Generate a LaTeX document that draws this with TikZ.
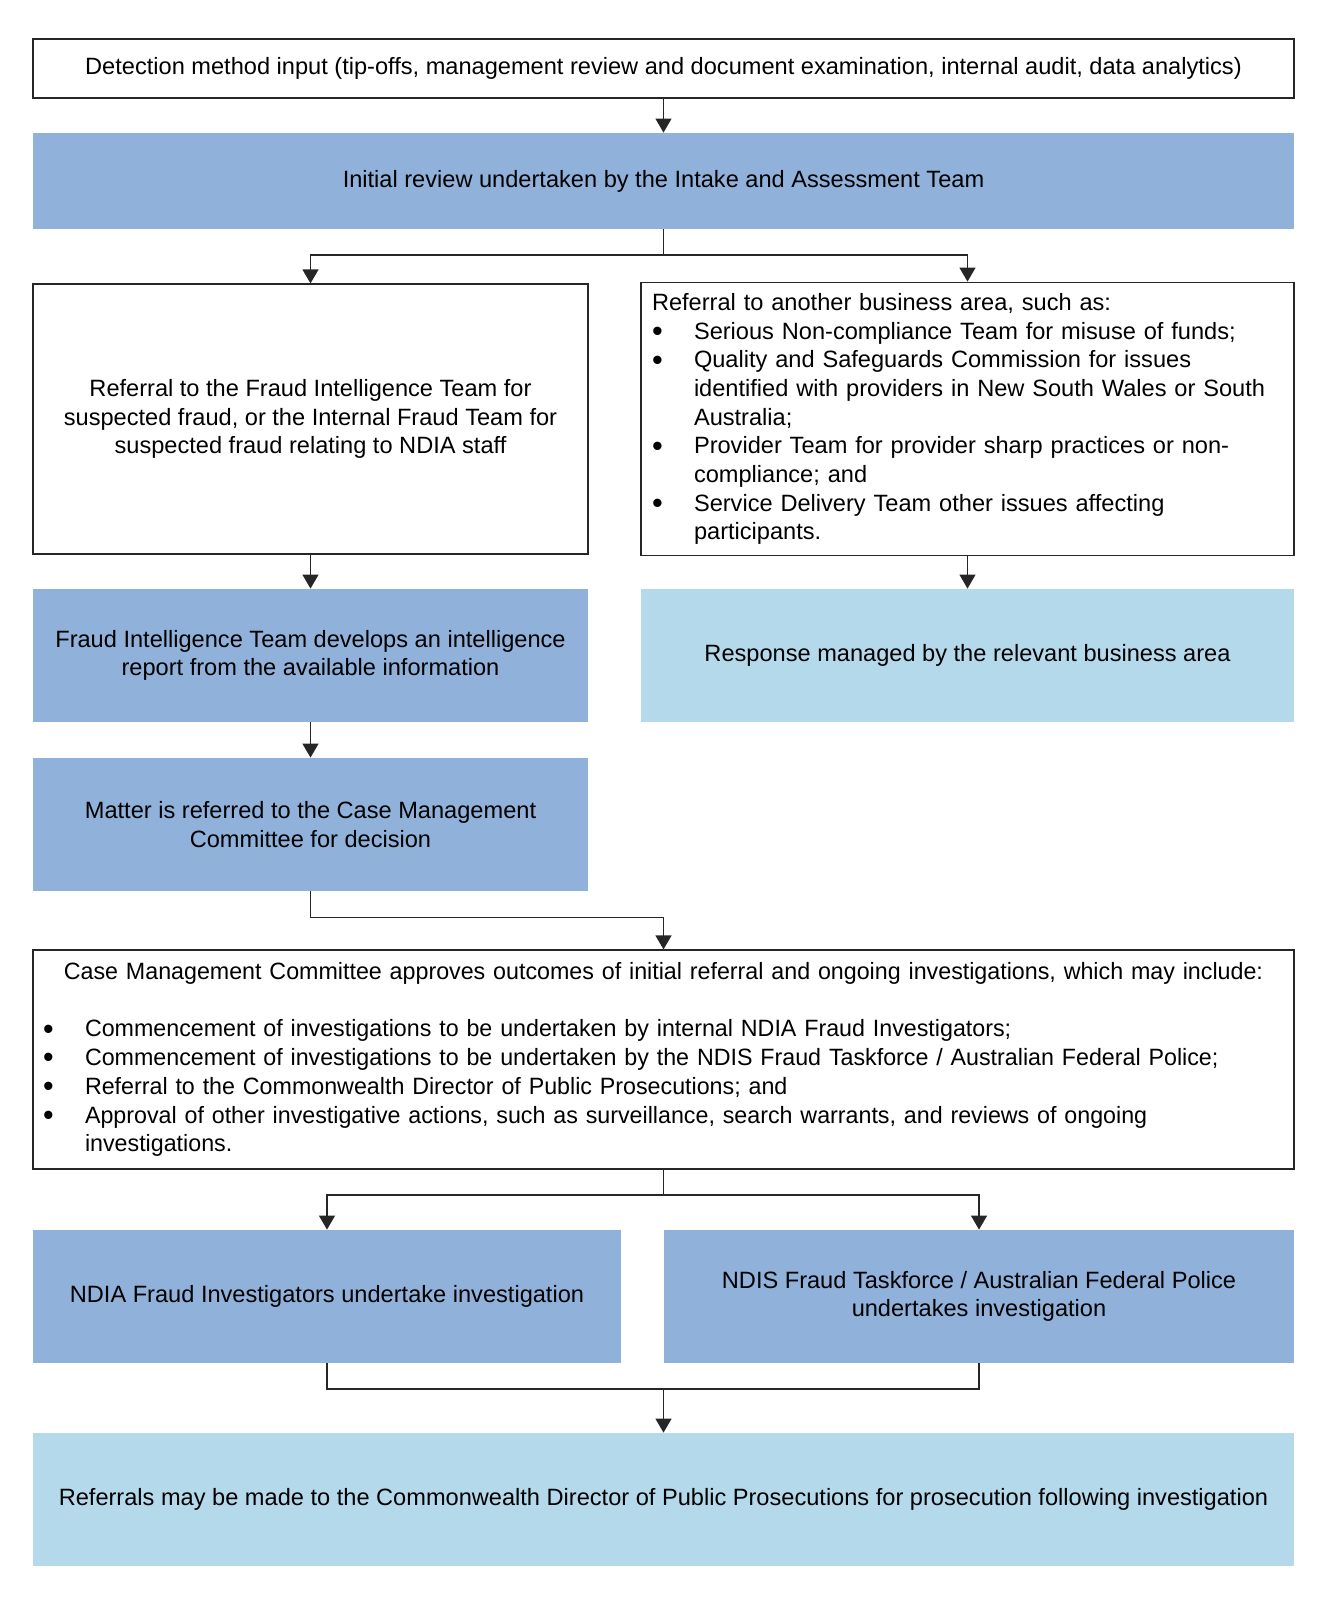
\documentclass[tikz,border=0pt]{standalone}
\usepackage{fontspec}
\setmainfont{Liberation Sans}
\newfontfamily\narrowfont[FakeStretch=0.985]{Liberation Sans}
\usetikzlibrary{arrows.meta}

\definecolor{stepblue}{RGB}{143,177,218}
\definecolor{paleblue}{RGB}{180,217,235}
\newcommand{\bul}{\makebox[21pt][l]{\raisebox{-0.1em}{\scalebox{1.3}{\textbullet}}}}
\newcommand{\ind}{\hspace*{21pt}}

\begin{document}
\begin{tikzpicture}[x=0.5pt, y=-0.5pt,
    every node/.style={font=\fontsize{11.8pt}{14.35pt}\selectfont, inner sep=5pt},
    outline/.style={draw=black!85, line width=0.6pt, fill=white},
    darkbox/.style={fill=stepblue},
    lightbox/.style={fill=paleblue},
    wide/.style={minimum width=630.5pt},
    leftcol/.style={minimum width=277.5pt},
    rightcol/.style={minimum width=326.5pt},
    link/.style={draw=black!85, line width=0.6pt},
    flow/.style={link, -{Triangle[length=7pt,width=8pt]}}]

    \useasboundingbox (0,0) rectangle (1327,1605);

    % draw top boxes
    \node[outline, wide, minimum height=29.5pt, align=center] (detect) at (663.5,68.5)
      {Detection method input (tip-offs, management review and document examination, internal audit, data analytics)};
    \node[darkbox, wide, minimum height=48pt, align=center] (intake) at (663.5,181)
      {Initial review undertaken by the Intake and Assessment Team};

    % draw referral boxes
    \node[outline, leftcol, minimum height=135pt, align=center] (fraudref) at (310.5,419)
      {Referral to the Fraud Intelligence Team for\\suspected fraud, or the Internal Fraud Team for\\suspected fraud relating to NDIA staff};
    \node[outline, rightcol, minimum height=135pt, inner sep=5.5pt, text width=315.5pt, align=left] (otherref) at (967.5,419)
      {Referral to another business area, such as:\\
       \bul Serious Non-compliance Team for misuse of funds;\\
       \bul Quality and Safeguards Commission for issues\\
       \ind identified with providers in New South Wales or South\\
       \ind Australia;\\
       \bul Provider Team for provider sharp practices or non-\\
       \ind compliance; and\\
       \bul Service Delivery Team other issues affecting\\
       \ind participants.};

    % draw middle boxes
    \node[darkbox, leftcol, minimum height=66.5pt, align=center] (fitrep) at (310.5,655.5)
      {Fraud Intelligence Team develops an intelligence\\report from the available information};
    \node[lightbox, rightcol, minimum height=66.5pt, align=center] (response) at (967.5,655.5)
      {Response managed by the relevant business area};
    \node[darkbox, leftcol, minimum height=66.5pt, align=center] (matter) at (310.5,824.5)
      {Matter is referred to the Case Management\\Committee for decision};

    % draw committee box
    \node[outline, wide, minimum height=109.5pt, text width=620.5pt, align=left] (cmc) at (663.5,1059.5)
      {\narrowfont\makebox[620.5pt]{Case Management Committee approves outcomes of initial referral and ongoing investigations, which may include:}\\[14.35pt]
       \bul Commencement of investigations to be undertaken by internal NDIA Fraud Investigators;\\
       \bul Commencement of investigations to be undertaken by the NDIS Fraud Taskforce / Australian Federal Police;\\
       \bul Referral to the Commonwealth Director of Public Prosecutions; and\\
       \bul Approval of other investigative actions, such as surveillance, search warrants, and reviews of ongoing\\
       \ind investigations.};

    % draw investigation boxes
    \node[darkbox, minimum width=294pt, minimum height=66.5pt, align=center] (ndia) at (327,1296.5)
      {NDIA Fraud Investigators undertake investigation};
    \node[darkbox, minimum width=315pt, minimum height=66.5pt, align=center] (ndis) at (979,1296.5)
      {NDIS Fraud Taskforce / Australian Federal Police\\undertakes investigation};
    \node[lightbox, wide, minimum height=66.5pt, align=center] (referrals) at (663.5,1499.5)
      {Referrals may be made to the Commonwealth Director of Public Prosecutions for prosecution following investigation};

    % draw connectors
    \coordinate (split1) at (663.5,255);
    \coordinate (split2) at (663.5,1195);
    \coordinate (join) at (663.5,1389);

    \draw[flow] (detect) -- (intake);
    \draw[link] (intake) -- (split1);
    \draw[flow] (split1) -| (fraudref);
    \draw[flow] (split1) -| (otherref);
    \draw[flow] (fraudref) -- (fitrep);
    \draw[flow] (otherref) -- (response);
    \draw[flow] (fitrep) -- (matter);
    \draw[flow] (matter.south) -- ++(0,26) -| (cmc);
    \draw[link] (cmc) -- (split2);
    \draw[flow] (split2) -| (ndia);
    \draw[flow] (split2) -| (ndis);
    \draw[link] (ndia) |- (join);
    \draw[link] (ndis) |- (join);
    \draw[flow] (join) -- (referrals);
\end{tikzpicture}
\end{document}
